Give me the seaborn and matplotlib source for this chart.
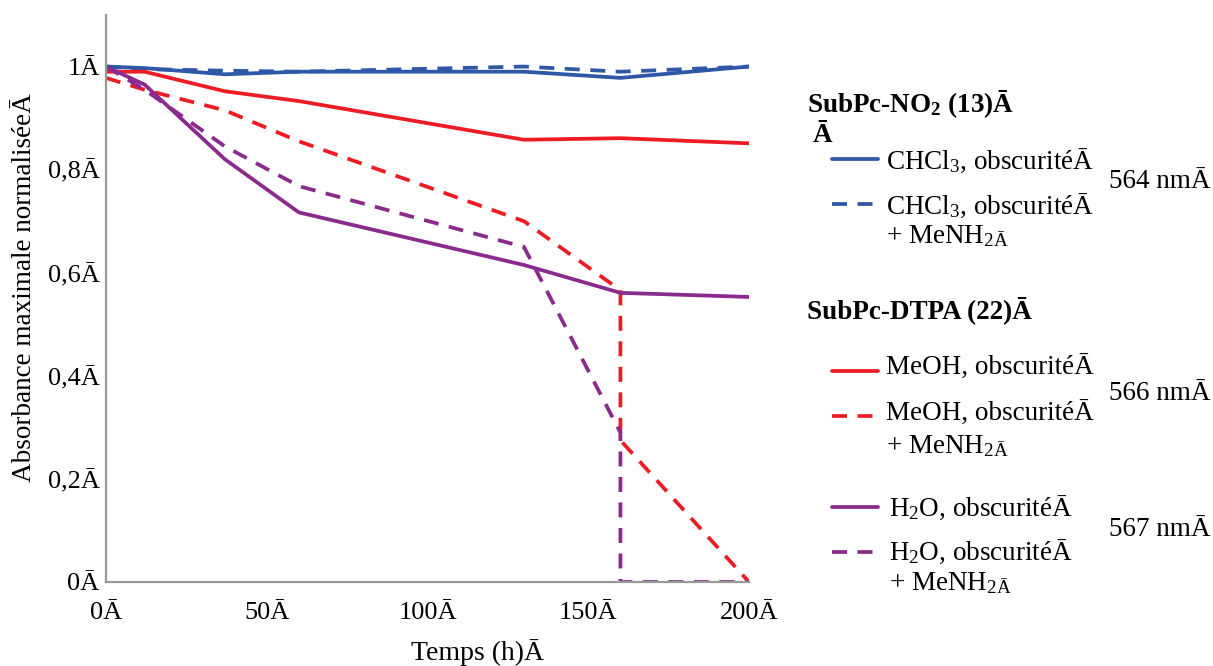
import seaborn as sns
import matplotlib.pyplot as plt
import pandas as pd
from matplotlib.lines import Line2D

# temps de mesure (h)
temps = [0, 12, 37, 60, 130, 160, 200]
temps_saut = [0, 12, 37, 60, 130, 160, 160, 200]

# absorbance maximale normalisee
chcl3 = [1.0, 0.997, 0.985, 0.99, 0.99, 0.978, 1.0]
chcl3_amine = [1.0, 0.995, 0.992, 0.99, 1.0, 0.99, 1.0]
meoh = [0.99, 0.99, 0.952, 0.933, 0.858, 0.861, 0.851]
meoh_amine = [0.978, 0.955, 0.915, 0.855, 0.70, 0.566, 0.275, 0.0]
h2o = [1.0, 0.965, 0.82, 0.717, 0.615, 0.561, 0.553]
h2o_amine = [1.0, 0.955, 0.845, 0.768, 0.65, 0.29, 0.0, 0.0]

ticks_x = [0, 50, 100, 150, 200]
labels_x = ['0Ā', '50Ā', '100Ā', '150Ā', '200Ā']
ticks_y = [0, 0.2, 0.4, 0.6, 0.8, 1.0]
labels_y = ['0Ā', '0,2Ā', '0,4Ā', '0,6Ā', '0,8Ā', '1Ā']

bleu = '#2F57A7'
rouge = '#ED1C24'
violet = '#8A2A8D'
tirets = (0, (4, 2.8))
epaisseur = 2.7

series = [
    (temps, chcl3, bleu, '-'),
    (temps, chcl3_amine, bleu, tirets),
    (temps, meoh, rouge, '-'),
    (temps_saut, meoh_amine, rouge, tirets),
    (temps, h2o, violet, '-'),
    (temps_saut, h2o_amine, violet, tirets),
]

sns.set_theme(style='white')
plt.rcParams['font.family'] = ['Liberation Serif', 'DejaVu Serif']
plt.rcParams['text.color'] = 'black'
plt.rcParams['axes.labelcolor'] = 'black'
plt.rcParams['xtick.labelcolor'] = 'black'
plt.rcParams['ytick.labelcolor'] = 'black'
plt.rcParams['mathtext.fontset'] = 'custom'
plt.rcParams['mathtext.rm'] = 'Liberation Serif'
plt.rcParams['mathtext.bf'] = 'Liberation Serif:bold'
plt.rcParams['mathtext.default'] = 'regular'

W, H = 1213, 666
fig = plt.figure(figsize=(W / 100, H / 100), dpi=100)
ax = fig.add_axes([106 / W, 1 - 582 / H, 643 / W, 567 / H])

for t, v, c, ls in series:
    df = pd.DataFrame({'t': t, 'v': v})
    sns.lineplot(data=df, x='t', y='v', ax=ax, color=c, linestyle=ls,
                 linewidth=epaisseur, estimator=None, sort=False)

ax.set_xlim(0, 200)
ax.set_ylim(0, 1.1)
ax.set_xticks(ticks_x, labels_x, fontsize=19)
ax.set_yticks(ticks_y, labels_y, fontsize=19)
ax.tick_params(axis='both', which='both', direction='out', length=4.5,
               width=1.3, color='#999999', pad=0)
ax.tick_params(axis='x', pad=10)
for s in ['top', 'right']:
    ax.spines[s].set_visible(False)
for s in ['left', 'bottom']:
    ax.spines[s].set_color('#999999')
    ax.spines[s].set_linewidth(1.6)

ax.set_xlabel('Temps (h)Ā', fontsize=20)
ax.xaxis.set_label_coords((477 - 106) / 643, -0.1)
ax.set_ylabel('Absorbance maximale normaliséeĀ', fontsize=19.5)
ax.yaxis.set_label_coords(-0.108, 0.52)


# legende faite a la main
def fx(x):
    return x / W


def fy(y):
    return 1 - y / H


def echantillon(y, c, ls):
    fig.add_artist(Line2D([fx(832), fx(878)], [fy(y), fy(y)], color=c,
                          linestyle=ls, linewidth=epaisseur,
                          transform=fig.transFigure))


def texte(x, y, s, **kw):
    fig.text(fx(x), fy(y), s, fontsize=19.5, va='center', ha='left', **kw)


texte(807, 104, r'SubPc-NO$_\mathbf{2}$ (13)Ā', fontweight='bold')
texte(813, 135, 'Ā', fontweight='bold')
echantillon(159, bleu, '-')
texte(886, 161, r'CHCl$_3$, obscuritéĀ')
echantillon(204, bleu, tirets)
texte(886, 206, r'CHCl$_3$, obscuritéĀ')
texte(886, 236, r'+ MeNH$_{2Ā}$')
texte(1109, 182, '564 nmĀ')

texte(807, 310, 'SubPc-DTPA (22)Ā', fontweight='bold')
echantillon(371, rouge, '-')
texte(886, 368, 'MeOH, obscuritéĀ')
echantillon(416, rouge, tirets)
texte(886, 414, 'MeOH, obscuritéĀ')
texte(886, 446, r'+ MeNH$_{2Ā}$')
texte(1109, 393, '566 nmĀ')

echantillon(507, violet, '-')
texte(889, 508, r'H$_2$O, obscuritéĀ')
echantillon(552, violet, tirets)
texte(889, 552, r'H$_2$O, obscuritéĀ')
texte(889, 583, r'+ MeNH$_{2Ā}$')
texte(1109, 530, '567 nmĀ')

fig.savefig('out.png', dpi=100)
